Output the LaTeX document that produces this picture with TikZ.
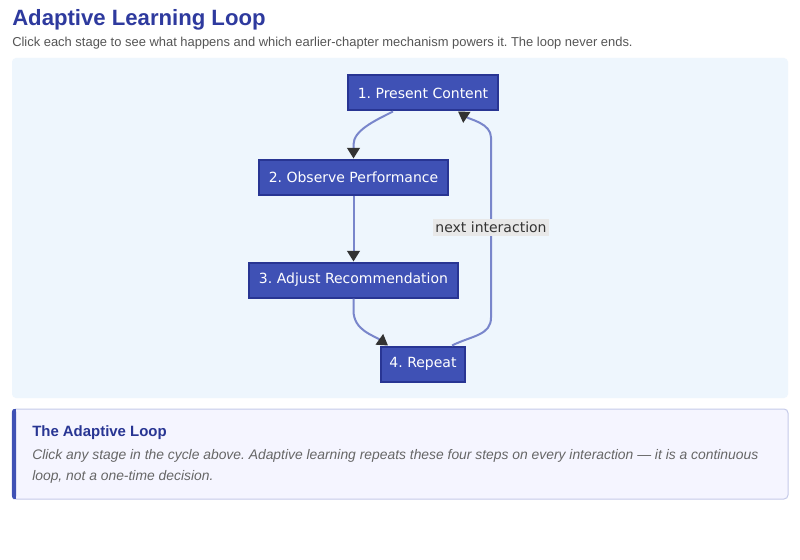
\documentclass[tikz,border=0pt]{standalone}
\usepackage{fontspec}
\setmainfont{Liberation Sans}
\newfontfamily\nodefont{DejaVu Sans}
\usetikzlibrary{arrows.meta,calc}
\definecolor{titleblue}{HTML}{2E3A9E}
\definecolor{subgray}{HTML}{555555}
\definecolor{panelbg}{HTML}{EEF6FD}
\definecolor{nodefill}{HTML}{3F51B5}
\definecolor{nodeborder}{HTML}{283593}
\definecolor{edgecol}{HTML}{7986CB}
\definecolor{tipcol}{HTML}{333333}
\definecolor{labelbg}{HTML}{E8E8E8}
\definecolor{notebg}{HTML}{F5F5FF}
\definecolor{noteborder}{HTML}{C5CAE9}
\definecolor{notetext}{HTML}{666666}
\frenchspacing
\tikzset{
  stage/.style={draw=nodeborder, line width=1.5pt, fill=nodefill, text=white,
    font=\nodefont\fontsize{10.5}{12}\selectfont, minimum height=26.25pt, inner xsep=6pt, inner ysep=0pt},
  edge/.style={draw=edgecol, line width=1.5pt, -{Triangle[length=8pt,width=9.5pt,fill=tipcol,color=tipcol]}},
  elabel/.style={fill=labelbg, text=tipcol, font=\nodefont\fontsize{10.5}{12}\selectfont, inner xsep=1.5pt, inner ysep=2.5pt},
  plain/.style={anchor=base west, inner sep=0}
}
\begin{document}
\begin{tikzpicture}[x=0.75pt,y=-0.75pt]
\useasboundingbox (0,0) rectangle (800,560);
\fill[white] (0,0) rectangle (800,560);
% header
\node[plain, text=titleblue, font=\bfseries\fontsize{16.6}{19}\selectfont] (title) at (12,26) {Adaptive Learning Loop};
\node[plain, text=subgray, font=\fontsize{9.7}{11}\selectfont] (subtitle) at (12,47) {Click each stage to see what happens and which earlier-chapter mechanism powers it. The loop never ends.};
% panel
\fill[panelbg, rounded corners=3pt] (12,58) rectangle (788,398);
% nodes
\node[stage, minimum width=112.5pt] (n1) at (423,93) {1. Present Content};
\node[stage, minimum width=141.75pt] (n2) at (353.5,177) {2. Observe Performance};
\node[stage, minimum width=156.75pt] (n3) at (353.5,280) {3. Adjust Recommendation};
\node[stage, minimum width=63pt] (n4) at (423,364) {4. Repeat};
% edges
\draw[edge] ($(n1.south)+(-30,0)$) .. controls +(-18,9) and +(0,-14) .. ($(n2.north)+(0,-14)$) -- (n2.north);
\draw[edge] (n2.south) -- (n3.north);
\draw[edge] (n3.south) -- +(0,12) .. controls +(0,20) and +(-14,-10) .. ($(n4.north)+(-35,0)$);
\draw[edge] ($(n4.north)+(29,0)$) .. controls +(20,-10) and +(0,18) .. ($(n4.north)+(68,-28)$)
  -- node[elabel, pos=0.5] (lab) {next interaction} ($(n1.south)+(68,26)$)
  .. controls +(0,-14) and +(12,8) .. ($(n1.south)+(35,0)$);
% note box
\fill[notebg, rounded corners=3pt] (12,409) rectangle (788,499);
\draw[noteborder, line width=0.75pt, rounded corners=3pt] (12,409) rectangle (788,499);
\fill[nodefill, rounded corners=2pt] (12,409) rectangle (16,499);
\fill[nodefill] (14,409) rectangle (16,499);
\node[plain, text=nodeborder, font=\bfseries\fontsize{11.2}{13}\selectfont] (notetitle) at (32,436) {The Adaptive Loop};
\node[plain, text=notetext, font=\itshape\fontsize{10.4}{12}\selectfont] (noteline1) at (32,459) {Click any stage in the cycle above. Adaptive learning repeats these four steps on every interaction --- it is a continuous};
\node[plain, text=notetext, font=\itshape\fontsize{10.4}{12}\selectfont] (noteline2) at (32,480) {loop, not a one-time decision.};
\end{tikzpicture}
\end{document}
